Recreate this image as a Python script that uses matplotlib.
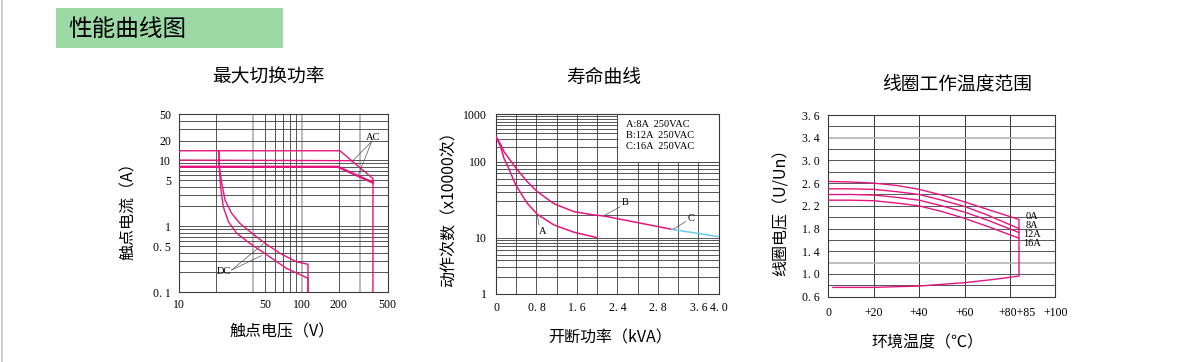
import matplotlib
matplotlib.use('Agg')

import matplotlib.pyplot as plt
import numpy as np
from matplotlib.patches import Rectangle
from matplotlib.lines import Line2D

plt.rcParams['font.family'] = ['Noto Sans CJK SC', 'DejaVu Sans']

PINK = '#e6147f'
CYAN = '#6ccbef'
GRID = '#3a3a3a'
GREY = '#b4b4b4'
NUM = 'Liberation Serif'

# 最大切换功率 (V, A)
ac_top_v = [10, 204, 379, 379]
ac_top_i = [14, 14, 5.3, 0.1]
ac_mid_v = [10, 254]
ac_mid_i = [10.1, 9.9]
ac_low_v = [10, 196, 379]
ac_low_i = [8, 8, 4.6]
dc_out_v = [21, 21.2, 22.2, 23.6, 26.7, 31.2, 37.7, 48.3, 66.2, 90.4, 112, 112]
dc_out_i = [14, 8, 4.5, 2.5, 1.58, 1.11, 0.83, 0.58, 0.39, 0.29, 0.266, 0.1]
dc_in_v = [21, 21.2, 21.7, 22.8, 25.1, 29.4, 37.7, 51.6, 75, 112, 112]
dc_in_i = [14, 7.6, 4.0, 2.0, 1.18, 0.785, 0.55, 0.37, 0.23, 0.163, 0.1]
p_xticks = [10, 50, 100, 200, 500]
p_yticks = [50, 20, 10, 5, 1, 0.5, 0.1]
p_ylabels = ['50', '20', '10', '5', '1', '0. 5', '0. 1']

# 寿命曲线 (kVA, x10000次)
life_a_kva = [0, 0.093, 0.158, 0.223, 0.389, 0.618, 0.816, 1.146, 1.541, 2.0]
life_a = [337, 205, 117, 90.6, 49.4, 28.4, 20.3, 14.7, 11.8, 10]
life_b_kva = [0, 0.093, 0.158, 0.389, 0.618, 0.816, 1.146, 1.541, 1.936, 2.133, 3.47]
life_b = [337, 230, 163, 83.4, 54.6, 40.3, 28, 22, 19.9, 19.3, 12.9]
life_c_kva = [3.47, 4.4]
life_c = [12.9, 10.3]
life_xticks = [0, 0.8, 1.6, 2.4, 3.2, 4.0, 4.4]
life_xlabels = ['0', '0. 8', '1. 6', '2. 4', '2. 8', '3. 6', '4. 0']
life_yticks = [1, 10, 100, 1000]
life_legend = ['A:8A  250VAC', 'B:12A  250VAC', 'C:16A  250VAC']

# 线圈工作温度范围 (℃, U/Un)
temp = [0, 10, 20, 30, 40, 50, 60, 70, 84]
u_0a = [2.63, 2.62, 2.60, 2.56, 2.49, 2.39, 2.27, 2.14, 1.96]
u_8a = [2.50, 2.50, 2.49, 2.45, 2.40, 2.30, 2.19, 2.04, 1.80]
u_12a = [2.40, 2.40, 2.39, 2.35, 2.30, 2.20, 2.09, 1.95, 1.73]
u_16a = [2.30, 2.30, 2.29, 2.25, 2.20, 2.10, 1.98, 1.84, 1.63]
temp_low = [84, 73, 60, 40, 20, 2]
u_low = [0.964, 0.905, 0.847, 0.788, 0.764, 0.764]
coil_names = ['0A', '8A', '12A', '16A']
t_xticks = [0, 20, 40, 60, 83, 100]
t_xlabels = ['0', '+20', '+40', '+60', '+80+85', '+100']
t_yticks = [0.6, 1.0, 1.4, 1.8, 2.2, 2.6, 3.0, 3.4, 3.8]
t_ylabels = ['0. 6', '1. 0', '1. 4', '1. 8', '2. 2', '2. 6', '3. 0', '3. 4', '3. 6']

W, H = 1177, 362
fig = plt.figure(figsize=(W / 100, H / 100), dpi=100)


def box(l, t, r, b):
    return [l / W, 1 - b / H, (r - l) / W, (b - t) / H]


def style(ax, pad_x, pad_y):
    ax.tick_params(length=0, labelsize=8.5, pad=pad_x, axis='x')
    ax.tick_params(length=0, labelsize=8.5, pad=pad_y, axis='y')
    for lab in ax.get_xticklabels() + ax.get_yticklabels():
        lab.set_fontfamily(NUM)
    for s in ax.spines.values():
        s.set_color(GRID)
        s.set_linewidth(0.8)


# header
fig.add_artist(Rectangle((56 / W, 1 - 48 / H), 227 / W, 40 / H, transform=fig.transFigure,
                         facecolor='#9dd9a5', edgecolor='none'))
fig.text(68 / W, 1 - 29 / H, '性能曲线图', fontsize=17, fontweight='medium', va='center', ha='left')
fig.add_artist(Line2D([1.5 / W, 1.5 / W], [0, 1], transform=fig.transFigure, color='#c8c8c8', lw=1.2))

# ---------- chart 1 ----------
ax1 = fig.add_axes(box(179.3, 114.3, 387.7, 292.3))
ax1.set_xscale('log')
ax1.set_yscale('log')
ax1.set_xlim(10, 500)
ax1.set_ylim(0.1, 50)
for v in [20, 40, 50, 60, 70, 80, 90, 100, 200, 300]:
    grey = v in (40, 100, 300)
    ax1.axvline(v, color=GREY if grey else GRID, lw=1.3 if grey else 0.6, zorder=1)
for d in [0.1, 1, 10]:
    for k in range(1, 10):
        y = d * k
        if 0.1 < y < 50:
            ax1.axhline(y, color=GRID, lw=0.6, zorder=1)
ax1.plot(ac_top_v, ac_top_i, color=PINK, lw=1.0, zorder=3)
ax1.plot(ac_mid_v, ac_mid_i, color=PINK, lw=1.0, zorder=3)
ax1.plot(ac_low_v, ac_low_i, color=PINK, lw=1.7, zorder=3)
ax1.plot(dc_out_v, dc_out_i, color=PINK, lw=1.0, zorder=3)
ax1.plot(dc_in_v, dc_in_i, color=PINK, lw=1.0, zorder=3)
ax1.text(379, 22.1, 'AC', fontsize=7.5, family=NUM, ha='center', va='center')
ax1.plot([370, 254], [19.3, 9.5], color='#555555', lw=0.5, zorder=4)
ax1.plot([370, 288], [19.3, 6.0], color='#555555', lw=0.5, zorder=4)
ax1.text(22.9, 0.205, 'DC', fontsize=7.5, family=NUM, ha='center', va='center')
ax1.plot([26.7, 48.3], [0.218, 0.54], color='#555555', lw=0.5, zorder=4)
ax1.plot([26.7, 46.8], [0.218, 0.36], color='#555555', lw=0.5, zorder=4)
ax1.set_xticks(p_xticks)
ax1.set_xticklabels([str(v) for v in p_xticks])
ax1.set_yticks(p_yticks)
ax1.set_yticklabels(p_ylabels)
ax1.minorticks_off()
style(ax1, 5, 6)
ax1.set_xlabel('触点电压（V）', fontsize=11.5, va='center')
ax1.xaxis.set_label_coords(0.493, -0.221)
ax1.set_ylabel('触点电流（A）', fontsize=11.5, va='center')
ax1.yaxis.set_label_coords(-0.244, 0.479)

# ---------- chart 2 ----------
ydec = [0, 56.3, 132.3, 179.7]


def fwd(v):
    v = np.clip(np.asarray(v, dtype=float), 1e-3, None)
    return np.interp(np.log10(v), [0, 1, 2, 3], ydec)


def inv(u):
    return 10 ** np.interp(u, ydec, [0, 1, 2, 3])


ax2 = fig.add_axes(box(496, 114.3, 718.7, 294))
ax2.set_yscale('function', functions=(fwd, inv))
ax2.set_xlim(0, 4.4)
ax2.set_ylim(1, 1000)
for k in range(1, 11):
    ax2.axvline(k * 0.4, color=GRID, lw=0.6, zorder=1)
for d in [1, 10, 100]:
    for k in range(1, 10):
        y = d * k
        if 1 < y < 1000:
            ax2.axhline(y, color=GRID, lw=0.6, zorder=1)
ax2.add_patch(Rectangle((2.4, 100), 2.0, 900, facecolor='white', edgecolor=GRID, lw=0.6, zorder=2))
for i, t in enumerate(life_legend):
    ax2.text(0.585, 0.945 - i * 0.061, t, transform=ax2.transAxes, fontsize=7.5, family=NUM,
             va='center', ha='left', zorder=5)
ax2.plot(life_a_kva, life_a, color=PINK, lw=1.1, zorder=3)
ax2.plot(life_b_kva, life_b, color=PINK, lw=1.1, zorder=3)
ax2.plot(life_c_kva, life_c, color=CYAN, lw=1.1, zorder=3)
ax2.text(0.93, 12.2, 'A', fontsize=7.5, family=NUM, ha='center', va='center')
ax2.plot([0.85, 0.816], [14.7, 20], color='#555555', lw=0.5, zorder=4)
ax2.text(2.55, 28.8, 'B', fontsize=7.5, family=NUM, ha='center', va='center')
ax2.plot([2.45, 2.12], [25.5, 19.3], color='#555555', lw=0.5, zorder=4)
ax2.text(3.85, 18, 'C', fontsize=7.5, family=NUM, ha='center', va='center')
ax2.plot([3.75, 3.5], [16.3, 12.9], color='#555555', lw=0.5, zorder=4)
ax2.set_xticks(life_xticks)
ax2.set_xticklabels(life_xlabels)
ax2.set_yticks(life_yticks)
ax2.set_yticklabels([str(v) for v in life_yticks])
ax2.minorticks_off()
style(ax2, 6, 6.5)
ax2.set_xlabel('开断功率（kVA）', fontsize=11.5, va='center')
ax2.xaxis.set_label_coords(0.512, -0.245)
ax2.set_ylabel('动作次数（x10000次）', fontsize=11.5, va='center')
ax2.yaxis.set_label_coords(-0.211, 0.495)

# ---------- chart 3 ----------
ax3 = fig.add_axes(box(828.3, 115, 1055.3, 296.7))
ax3.set_xlim(0, 100)
ax3.set_ylim(0.6, 3.8)
for v in [20, 40, 60, 80]:
    ax3.axvline(v, color=GRID, lw=0.7, zorder=1)
for k in range(1, 16):
    y = 0.6 + k * 0.2
    grey = k in (3, 14)
    ax3.axhline(y, color=GREY if grey else GRID, lw=1.2 if grey else 0.6, zorder=1)
ax3.plot(temp + [84] + temp_low, u_0a + [0.964] + u_low, color=PINK, lw=1.0, zorder=3)
for series in (u_8a, u_12a, u_16a):
    ax3.plot(temp, series, color=PINK, lw=1.0, zorder=3)
for name, y in zip(coil_names, [2.02, 1.86, 1.70, 1.54]):
    ax3.text(89.8, y, name, fontsize=7.5, family=NUM, ha='center', va='center')
ax3.set_xticks(t_xticks)
ax3.set_xticklabels(t_xlabels)
ax3.set_yticks(t_yticks)
ax3.set_yticklabels(t_ylabels)
style(ax3, 7.5, 6)
ax3.set_xlabel('环境温度（℃）', fontsize=11.5, va='center')
ax3.xaxis.set_label_coords(0.439, -0.255)
ax3.set_ylabel('线圈电压（U/Un）', fontsize=11.5, va='center')
ax3.yaxis.set_label_coords(-0.208, 0.488)

# titles
fig.text(268 / W, 1 - 77 / H, '最大切换功率', fontsize=13.5, ha='center', va='center')
fig.text(604 / W, 1 - 77 / H, '寿命曲线', fontsize=13.5, ha='center', va='center')
fig.text(957 / W, 1 - 84 / H, '线圈工作温度范围', fontsize=13.5, ha='center', va='center')

fig.savefig('out.png', dpi=100)
